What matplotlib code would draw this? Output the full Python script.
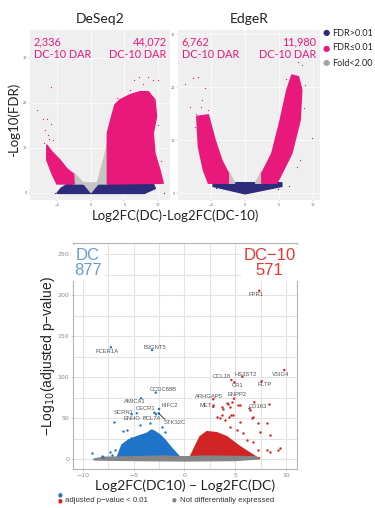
import numpy as np
import matplotlib as mpl
import matplotlib.pyplot as plt

W, H = 375, 508

# ---------------- top panels (DeSeq2 / EdgeR) ----------------
top_titles = ['DeSeq2', 'EdgeR']
top_counts = [('2,336', '44,072'), ('6,762', '11,980')]
top_legend = ['FDR>0.01', 'FDR\u22640.01', 'Fold<2.00']

# dense clouds as outlines (x = log2FC diff, y = -log10 FDR)
des_pink_l = [(-6.6, 10.7), (-5.85, 9.2), (-4.6, 7.3), (-3.6, 5.4), (-2.6, 4.2),
              (-2.5, 2.0), (-5.1, 2.0), (-5.85, 4.4), (-6.6, 7.3)]
des_pink_r = [(2.44, 2.0), (2.44, 13.3), (3.08, 17.0), (3.58, 19.6), (4.33, 20.7),
              (5.8, 21.8), (7.3, 22.5), (8.56, 22.5), (9.55, 20.7), (9.8, 17.0),
              (9.3, 13.3), (9.55, 8.8), (10.3, 5.1), (10.8, 2.15)]
des_grey_l = [(-2.6, 2.0), (-2.6, 4.5), (-1.0, 2.0)]
des_grey_r = [(0.9, 2.0), (2.0, 8.0), (2.44, 11.0), (2.44, 2.0)]
des_navy = [(-5.1, -0.1), (-4.5, 1.0), (-3.4, 2.1), (9.3, 2.1), (9.6, 1.0), (8.0, -0.1)]
des_notch = [(-1.1, 2.1), (0.0, 0.1), (1.1, 2.1)]
des_pink_pts_x = [-8.1, -6.02, -7.1, -6.6, -5.9, -6.87, -6.37, -5.6, -7.0, -6.2,
                  6.46, 7.2, 8.56, 9.2, 9.95, 7.8, 5.8, 6.5, 9.3, 9.55, 4.3, 9.05, 8.3,
                  10.0, 3.9, 10.4]
des_pink_pts_y = [18.4, 23.6, 16.4, 16.4, 15.3, 14.0, 12.9, 11.8, 11.0, 12.0,
                  25.2, 25.8, 25.7, 25.2, 25.2, 24.3, 22.9, 20.8, 21.4, 18.4, 19.9, 5.8, 4.3,
                  15.0, 21.0, 7.0]
des_navy_pts_x = [10.9, 7.4, -5.3]
des_navy_pts_y = [-0.1, 0.3, 0.0]

edg_pink_l = [(-7.1, 14.5), (-5.39, 14.8), (-4.41, 10.1), (-3.43, 6.3), (-2.45, 3.8),
              (-2.45, 1.9), (-5.39, 1.9), (-6.13, 4.4), (-6.86, 8.8)]
edg_pink_r = [(2.45, 1.9), (2.45, 3.8), (3.92, 7.5), (5.15, 13.8), (6.13, 19.5),
              (6.86, 22.3), (7.84, 22.0), (8.33, 19.5), (8.09, 13.8), (6.86, 7.5),
              (5.15, 3.1), (4.66, 1.9)]
edg_grey_l = [(-2.45, 1.9), (-2.45, 4.2), (-1.5, 1.9)]
edg_grey_r = [(1.5, 1.9), (2.45, 4.2), (2.45, 1.9)]
edg_navy = [(-4.7, 2.0), (5.4, 2.0), (5.4, 1.3), (0.0, -0.1), (-4.7, 1.3)]
edg_pink_pts_x = [-8.82, -7.6, -6.86, -5.88, -8.09, -6.37, -5.39, -7.35, -7.2, -6.5,
                  7.84, 8.43, 7.1, 8.82, 9.8, 7.6, 8.0, 8.6, 6.0]
edg_pink_pts_y = [20.6, 21.7, 21.9, 19.8, 16.2, 17.6, 15.8, 12.6, 15.0, 16.3,
                  24.8, 24.2, 22.3, 20.4, 10.4, 5.0, 6.3, 16.0, 21.5]
edg_navy_pts_x = [6.4, -4.3, 4.9]
edg_navy_pts_y = [1.4, 1.0, 0.9]

# ---------------- bottom volcano ----------------
genes = ['FCER1A', 'B3GNT5', 'FPR1', 'VSIG4', 'HS3ST2', 'CCL18', 'CR1', 'PLTP',
         'ARHGAP5', 'MET', 'ENPP2', 'CD163', 'CCDC88B', 'AMICA1', 'KIFC2', 'CECR1',
         'SCRN1', 'ENHO', 'BCL7A', 'STK32C']
gene_x = [-7.24, -3.18, 7.38, 9.84, 5.71, 4.63, 4.92, 7.62,
          2.85, 2.85, 4.89, 6.89, -2.82, -4.26, -2.49, -2.95,
          -4.69, -5.2, -2.8, -2.52]
gene_y = [136.6, 133.3, 205.6, 108.9, 100.7, 96.7, 93.9, 95.1,
          73.2, 64.0, 73.9, 69.5, 81.3, 74.4, 61.3, 56.8,
          56.1, 54.9, 55.0, 56.0]
label_x = [-7.64, -2.95, 7.06, 9.49, 6.07, 3.68, 5.26, 7.94,
           2.46, 2.14, 5.22, 7.22, -2.07, -4.85, -1.41, -3.77,
           -6.0, -5.18, -3.21, -0.92]
label_y = [131.2, 136.6, 201.2, 104.0, 104.0, 100.7, 89.8, 91.5,
           76.0, 66.2, 79.3, 65.0, 85.7, 69.9, 66.2, 61.7,
           57.3, 50.0, 50.0, 44.6]

blue_cloud = [(-6.66, 1.2), (-6.16, 17.4), (-5.51, 23.5), (-4.69, 27.6), (-3.7, 31.7),
              (-3.21, 35.8), (-2.88, 33.7), (-2.39, 29.6), (-1.9, 23.5), (-1.24, 13.4),
              (-0.42, 2.4), (-0.42, 1.0)]
red_cloud = [(0.56, 1.0), (0.56, 2.4), (1.05, 15.4), (1.54, 27.6), (2.2, 33.7),
             (3.18, 32.5), (4.17, 27.6), (5.48, 15.4), (7.12, 2.4), (7.45, 1.0)]
grey_band = [(-8.9, 0.3), (-8.0, 2.5), (-5.0, 3.0), (-2.0, 4.0), (0.0, 3.0), (2.0, 4.0),
             (5.0, 3.5), (7.0, 3.0), (7.3, 0.5), (5.0, -1.5), (0.0, -2.0), (-5.0, -1.5),
             (-8.9, -0.8)]
blue_pts_x = [-9.12, -8.13, -7.97, -7.31, -6.82, -7.15, -5.67, -5.28, -4.37, -4.04,
              -6.89, -6.0, -3.38, -1.9, -2.23]
blue_pts_y = [8.1, 4.0, 2.4, 9.3, 11.3, 5.2, 35.8, 25.6, 41.9, 29.6,
              45.9, 34.9, 43.8, 33.7, 39.9]
red_pts_x = [2.86, 3.67, 4.17, 4.66, 5.48, 6.46, 6.79, 7.28, 7.45, 8.1, 8.43, 3.67,
             4.0, 4.82, 5.48, 6.13, 6.79, 8.1, 8.43, 9.25, 9.42, 7.28, 5.15, 5.8, 4.5,
             3.78, 4.33, 4.5, 5.31, 6.4, 4.43, 4.6, 6.63, 3.19, 3.5, 8.3]
red_pts_y = [66.2, 64.2, 68.3, 70.3, 66.2, 60.1, 52.0, 43.8, 33.7, 43.8, 29.6, 54.1,
             48.0, 54.1, 45.9, 23.5, 21.5, 11.3, 9.3, 11.3, 13.4, 11.3, 35.8, 31.7, 39.9,
             61.0, 67.4, 64.2, 65.8, 62.2, 52.0, 54.0, 50.0, 52.0, 50.0, 67.0]

navy, pink, lgrey = '#2E2A7C', '#E8197B', '#C4C4C4'
blue, red, dgrey = '#1F74C9', '#D22424', '#858585'

fig = plt.figure(figsize=(W / 100, H / 100), dpi=100)


def px_axes(x0, y0, x1, y1):
    return fig.add_axes([x0 / W, 1 - y1 / H, (x1 - x0) / W, (y1 - y0) / H])


def blob(ax, pts, color, z):
    xs, ys = zip(*pts)
    ax.fill(xs, ys, color=color, lw=1.0, ec=color, zorder=z)


top = [
    (px_axes(30, 30, 170, 200), (-9.1, 11.8), (-1.56, 36.2),
     des_pink_l, des_pink_r, des_grey_l, des_grey_r, des_navy, des_notch,
     (des_pink_pts_x, des_pink_pts_y), (des_navy_pts_x, des_navy_pts_y)),
    (px_axes(178, 30, 320, 200), (-9.85, 11.0), (-1.26, 30.8),
     edg_pink_l, edg_pink_r, edg_grey_l, edg_grey_r, edg_navy, None,
     (edg_pink_pts_x, edg_pink_pts_y), (edg_navy_pts_x, edg_navy_pts_y)),
]

for i, (ax, xl, yl, pl, pr, gl, gr, nv, notch, ppts, npts) in enumerate(top):
    ax.set_facecolor('#EFEFEF')
    ax.grid(True, color='white', lw=0.5)
    ax.set_axisbelow(True)
    for s in ax.spines.values():
        s.set_visible(False)
    blob(ax, nv, navy, 2)
    if notch:
        blob(ax, notch, lgrey, 3)
    blob(ax, gl, lgrey, 3)
    blob(ax, gr, lgrey, 3)
    blob(ax, pl, pink, 4)
    blob(ax, pr, pink, 4)
    ax.scatter(*ppts, s=0.8, color=pink, lw=0, zorder=5)
    ax.scatter(*npts, s=0.8, color=navy, lw=0, zorder=5)
    ax.set_xlim(*xl)
    ax.set_ylim(*yl)
    ax.set_xticks([-5, 0, 5, 10])
    ax.set_yticks([0, 10, 20, 30])
    ax.tick_params(labelsize=2.5, labelcolor='#666666', length=1, width=0.3,
                   color='#666666', pad=1)
    ax.set_title(top_titles[i], fontsize=10, family='Lato', pad=5, color='#222222')
    lc, rc = top_counts[i]
    ax.text(0.025, 0.965, lc + '\nDC-10 DAR', transform=ax.transAxes, ha='left', va='top',
            color=pink, fontsize=7.8, family='Lato', linespacing=1.25)
    ax.text(0.975, 0.965, rc + '\nDC-10 DAR', transform=ax.transAxes, ha='right', va='top',
            color=pink, fontsize=7.8, family='Lato', linespacing=1.25, multialignment='right')

fig.text(14 / W, 1 - 120 / H, '-Log10(FDR)', rotation=90, ha='center', va='center',
         fontsize=9.5, family='Lato', color='#222222')
fig.text(175 / W, 1 - 216 / H, 'Log2FC(DC)-Log2FC(DC-10)', ha='center', va='center',
         fontsize=9.5, family='Lato', color='#222222')
for k, (lab, col) in enumerate(zip(top_legend, [navy, pink, '#A5A5A5'])):
    yy = 1 - (33 + 15 * k) / H
    fig.text(326 / W, yy, '\u25CF', color=col, ha='center', va='center', fontsize=6)
    fig.text(332 / W, yy, lab, ha='left', va='center', fontsize=6.5, family='Lato',
             color='#222222')

# ---------------- bottom chart ----------------
ax = px_axes(72.7, 243, 296.7, 469.3)
ax.set_xlim(-11, 11.06)
ax.set_ylim(-12.2, 263.8)
ax.set_xticks([-10, -5, 0, 5, 10])
ax.set_xticks([-7.5, -2.5, 2.5, 7.5], minor=True)
ax.set_yticks([0, 50, 100, 150, 200, 250])
ax.set_yticks([25, 75, 125, 175, 225], minor=True)
ax.grid(True, which='both', color='#E3E3E3', lw=0.8)
ax.set_axisbelow(True)
for s in ax.spines.values():
    s.set_color('#B5B5B5')
    s.set_linewidth(0.8)
ax.tick_params(which='major', labelsize=4.5, labelcolor='#8A8A8A', length=1.5,
               width=0.5, color='#B5B5B5', pad=1)
ax.tick_params(which='minor', length=0)

blob(ax, blue_cloud, blue, 2)
blob(ax, red_cloud, red, 2)
blob(ax, grey_band, dgrey, 3)
ax.scatter(blue_pts_x, blue_pts_y, s=3, color=blue, lw=0, zorder=3)
ax.scatter(red_pts_x, red_pts_y, s=3, color=red, lw=0, zorder=3)
gcol = [blue if x < 0 else red for x in gene_x]
ax.scatter(gene_x, gene_y, s=3, color=gcol, lw=0, zorder=4)
i_stk = genes.index('STK32C')
ax.plot([gene_x[i_stk], label_x[i_stk] - 1.0], [gene_y[i_stk], label_y[i_stk] + 4],
        color='black', lw=0.5, zorder=4)
for g, lx, ly in zip(genes, label_x, label_y):
    ax.text(lx, ly, g, ha='center', va='center', fontsize=4.2, color='#555555',
            family='Liberation Sans', zorder=5)

box = dict(facecolor='white', edgecolor='none', pad=2)
ax.text(-9.5, 258, 'DC\n877', ha='center', va='top', multialignment='center',
        color='#6A9BD0', fontsize=12, family='Liberation Sans', linespacing=1.0,
        bbox=box, zorder=6)
ax.text(8.4, 258, 'DC\u221210\n571', ha='center', va='top', multialignment='center',
        color='#EE3333', fontsize=12, family='Liberation Sans', linespacing=1.0,
        bbox=box, zorder=6)

ax.set_xlabel('Log2FC(DC10) \u2212 Log2FC(DC)', fontsize=10, family='Lato',
              color='#222222', labelpad=1)
ax.set_ylabel('\u2212Log$_{10}$(adjusted p\u2212value)', fontsize=10,
              family='Liberation Sans', color='#222222', labelpad=0)

# bottom legend
fig.text(60 / W, 1 - 495 / H, '\u25CF', color=blue, ha='center', va='center', fontsize=4)
fig.text(60 / W, 1 - 500.5 / H, '\u25CF', color=red, ha='center', va='center', fontsize=4)
fig.text(65 / W, 1 - 500 / H, 'adjusted p\u2212value < 0.01', ha='left', va='center',
         fontsize=5.6, family='Liberation Sans', color='#333333')
fig.text(174 / W, 1 - 500 / H, '\u25CF', color=dgrey, ha='center', va='center', fontsize=4)
fig.text(180 / W, 1 - 500 / H, 'Not differentially expressed', ha='left', va='center',
         fontsize=5.6, family='Liberation Sans', color='#333333')

fig.savefig('out.png', dpi=100)
